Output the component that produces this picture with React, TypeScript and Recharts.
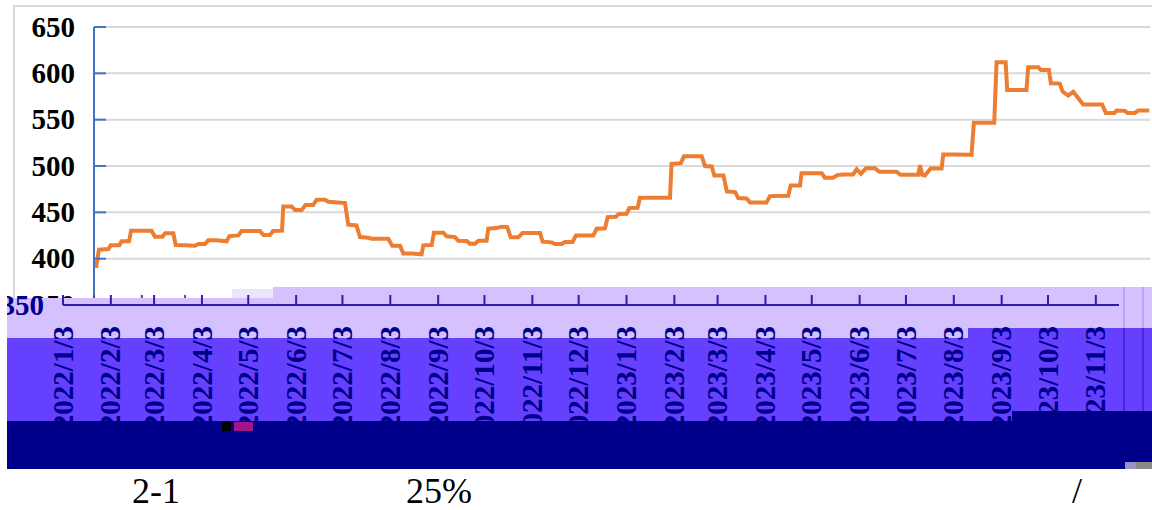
import { CartesianGrid, Line, LineChart, XAxis, YAxis } from 'recharts';

// days since 2022/1/3
const days = [
  1.3, 3.2, 9.3, 10.8, 16.4, 17.9, 22.7, 24, 37.3, 39.5, 44.3, 46, 51.4, 52.9, 58.9, 65.4, 67.6, 71.9, 74, 79.4,
  85.9, 87.7, 93.5, 95.6, 107.5, 109.7, 114, 116, 121.8, 122.6, 128, 130.2, 134.5, 137, 142, 144.2, 149.6, 151.8,
  162.6, 164.7, 170, 172.3, 177.7, 179.8, 190.6, 193.2, 198.2, 200.3, 205.7, 212.2, 213.3, 218.7, 220.2, 226.3,
  228.4, 233.8, 236, 241.4, 243.5, 246.8, 249, 254.3, 255.4, 260.8, 264, 267.7, 269.9, 274.8, 277.6, 288.9, 290.6,
  296.4, 298.6, 302.9, 305.1, 310, 312.2, 323.4, 325.6, 331, 332.7, 338.1, 339.7, 345, 346.7, 352.1, 353.6, 373.1,
  374.1, 380.2, 382.1, 393.6, 395.8, 400.1, 401.8, 407.7, 409.9, 415.3, 417.3, 422.7, 424.9, 435.6, 437.8, 449.7,
  451.2, 457.3, 458.3, 471.3, 473.4, 478.8, 481.4, 485.3, 491.8, 494, 496.8, 500, 505.8, 508.7, 519.9, 522.4,
  533.9, 535, 536.5, 538.2, 541.9, 549, 550.1, 556.5, 568.4, 569.9, 583.1, 584.6, 590.5, 591.5, 604, 605.1, 611.6,
  613.3, 618.5, 619.8, 625.6, 627.4, 631, 634.3, 640.7, 653, 655.4, 661, 662.4, 667.7, 669.5, 674.2, 676.4, 683.5,
];
const prices = [
  390, 409.7, 410.4, 414.4, 414.4, 418.7, 418.7, 430.2, 430.2, 423.7, 423.7, 427.3, 427.3, 414.7, 414.4, 414,
  415.8, 415.8, 419.8, 419.8, 418.7, 424.4, 425.1, 429.8, 429.8, 425.5, 425.5, 429.8, 430.2, 456.4, 456.4, 452.4,
  452.4, 457.8, 457.8, 463.6, 463.6, 461.4, 460, 436.6, 435.9, 423.3, 422.6, 421.6, 421.6, 414, 414, 405.7, 405.7,
  404.7, 414.4, 414.7, 428, 428, 424.1, 423.3, 419.4, 419, 416.2, 416.2, 419.4, 419.4, 432.3, 433, 434.5, 434.1,
  423, 423, 427.7, 427.7, 418.3, 417.6, 415.8, 415.8, 418, 418, 425.1, 425.1, 432.3, 432.7, 444.9, 445.3, 448.1,
  448.5, 454.6, 455, 465.7, 465.7, 502.4, 503.1, 510.6, 510.6, 499.9, 499.5, 489.8, 489.8, 472.6, 471.8, 465.4,
  465, 460.7, 460.7, 467.5, 467.9, 479, 479, 492.3, 492.3, 487.3, 487.3, 490.2, 490.9, 490.9, 496.6, 491.6, 497.7,
  497.7, 493.8, 493.8, 490.5, 490.5, 500.9, 490.5, 489.8, 497.3, 497.3, 512.4, 512.4, 512.1, 546.6, 546.6, 611.9,
  611.9, 582.1, 582.1, 606.5, 606.5, 603.7, 603.7, 589.3, 588.9, 580.3, 576, 580, 566.3, 566.3, 557.3, 557.3, 559.8,
  559.5, 557.3, 557.3, 559.8, 559.8,
];
const tickDays = [0, 31, 59, 90, 120, 151, 181, 212, 243, 273, 304, 334, 365, 396, 424, 455, 485, 516, 546, 577, 608, 638, 669];
const tickLabels = [
  '2022/1/3', '2022/2/3', '2022/3/3', '2022/4/3', '2022/5/3', '2022/6/3', '2022/7/3', '2022/8/3', '2022/9/3',
  '2022/10/3', '2022/11/3', '2022/12/3', '2023/1/3', '2023/2/3', '2023/3/3', '2023/4/3', '2023/5/3', '2023/6/3',
  '2023/7/3', '2023/8/3', '2023/9/3', '2023/10/3', '2023/11/3',
];
const yTicks = [350, 400, 450, 500, 550, 600, 650];

const data = days.map((day, i) => ({ day, price: prices[i] }));

const SERIF = '"Liberation Serif", serif';
const NAVY = '#00008b';
const LIGHT = '#d6c1ff';
const MID = '#6640ff';

function box(left: number, top: number, width: number, height: number, background: string) {
  return <div style={{ position: 'absolute', left, top, width, height, background }} />;
}

function PriceChart() {
  return (
    <LineChart
      width={1152}
      height={510}
      data={data}
      margin={{ top: 27, right: 2, bottom: 0, left: 0 }}
    >
      <CartesianGrid vertical={false} stroke="#d9d9d9" strokeWidth={2} />
      <XAxis
        dataKey="day"
        type="number"
        domain={[0, 684]}
        ticks={tickDays}
        interval={0}
        height={205}
        tickSize={0}
        tickMargin={0}
        tickLine={false}
        axisLine={false}
        tick={({ x, y }: any) => <line x1={x} x2={x} y1={y - 10} y2={y} stroke="#555" strokeWidth={2} />}
      />
      <YAxis
        domain={[350, 650]}
        ticks={yTicks}
        interval={0}
        width={94}
        tickSize={0}
        tickMargin={0}
        tickLine={false}
        axisLine={{ stroke: '#4472c4', strokeWidth: 2 }}
        tick={({ x, y, payload }: any) => (
          <g>
            <line x1={x} x2={x + 12} y1={y} y2={y} stroke="#4472c4" strokeWidth={2} />
            <text x={x - 19} y={y} dy="0.33em" textAnchor="end" fontFamily={SERIF} fontWeight="bold" fontSize={29} fill="#000">
              {payload.value}
            </text>
          </g>
        )}
      />
      <Line
        dataKey="price"
        type="linear"
        stroke="#ed7d31"
        strokeWidth={4}
        dot={false}
        isAnimationActive={false}
      />
    </LineChart>
  );
}

// the date axis, which sits 31px to the left of the plot above it
function DateAxis() {
  return (
    <LineChart
      width={1152}
      height={510}
      data={data}
      margin={{ top: 27, right: 33, bottom: 0, left: 0 }}
    >
      <XAxis
        dataKey="day"
        type="number"
        domain={[0, 684]}
        ticks={tickDays}
        interval={0}
        height={205}
        tickSize={0}
        tickMargin={0}
        tickLine={false}
        axisLine={{ stroke: '#2c1cb4', strokeWidth: 2 }}
        tick={({ x, y, index }: any) => (
          <g>
            <line x1={x} x2={x} y1={y - 10} y2={y} stroke="#2c1cb4" strokeWidth={2} />
            <text
              x={x}
              y={y + 21}
              dy="0.33em"
              textAnchor="end"
              transform={`rotate(-90 ${x} ${y + 21})`}
              fontFamily={SERIF}
              fontWeight="bold"
              fontSize={29}
              fill={NAVY}
            >
              {tickLabels[index]}
            </text>
          </g>
        )}
      />
      <YAxis
        domain={[350, 650]}
        ticks={yTicks}
        interval={0}
        width={63}
        tickSize={0}
        tickMargin={0}
        tickLine={false}
        axisLine={false}
        tick={({ x, y, payload }: any) =>
          payload.value === 350 ? (
            <text x={x - 19} y={y} dy="0.33em" textAnchor="end" fontFamily={SERIF} fontWeight="bold" fontSize={29} fill={NAVY}>
              {payload.value}
            </text>
          ) : (
            <g />
          )
        }
      />
      <Line dataKey="price" stroke="none" dot={false} isAnimationActive={false} />
    </LineChart>
  );
}

function caption(left: number, text: string) {
  return (
    <span style={{ position: 'absolute', left, top: 471, fontFamily: SERIF, fontSize: 36, lineHeight: '40px', color: '#000' }}>
      {text}
    </span>
  );
}

export default function App() {
  return (
    <div style={{ position: 'absolute', left: 0, top: 0, width: 1152, height: 510, overflow: 'hidden', background: '#fff' }}>
      <div style={{ position: 'absolute', left: 13, top: 5, width: 1139, height: 300, borderLeft: '2px solid #d9d9d9', borderTop: '2px solid #d9d9d9' }} />
      <div style={{ position: 'absolute', left: 0, top: 0 }}>
        <PriceChart />
      </div>

      {box(7, 298, 1145, 40, LIGHT)}
      {box(273, 287, 879, 11, LIGHT)}
      {box(232, 289, 41, 9, '#ece6fa')}
      {box(7, 338, 1145, 83, MID)}
      {box(968, 328, 184, 10, MID)}
      {box(1123, 287, 2, 41, '#b9a3fa')}
      {box(1142, 287, 2, 41, '#b9a3fa')}
      {box(1123, 328, 2, 83, '#4a28d8')}
      {box(1142, 328, 2, 83, '#4a28d8')}

      <div style={{ position: 'absolute', left: 7, top: 0, width: 1145, height: 510, overflow: 'hidden' }}>
        <div style={{ position: 'absolute', left: -7, top: 0 }}>
          <DateAxis />
        </div>
      </div>

      {box(7, 421, 1145, 48, NAVY)}
      {box(1012, 411, 140, 10, NAVY)}
      {box(222, 422, 9, 9, '#000')}
      {box(234, 422, 19, 9, '#a0148c')}
      {box(1125, 462, 11, 7, '#9a90c8')}
      {box(1136, 462, 16, 7, '#888888')}

      {caption(132, '2-1')}
      {caption(406, '25%')}
      {caption(1072, '/')}
    </div>
  );
}
